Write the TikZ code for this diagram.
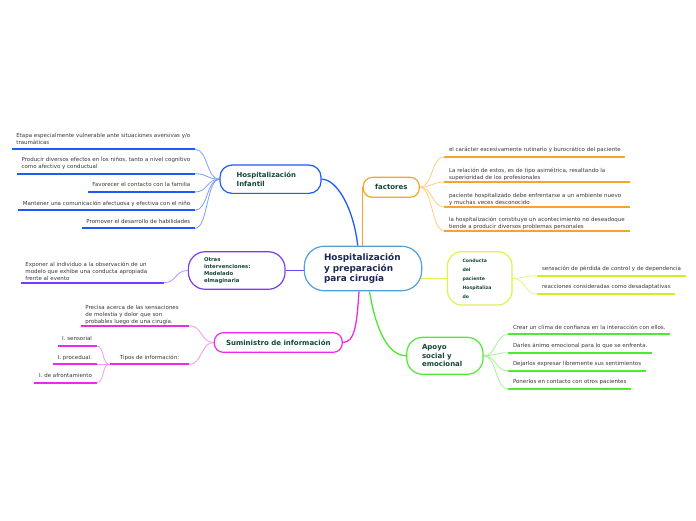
\documentclass[tikz,border=0pt]{standalone}
\usepackage{fontspec}
\setmainfont{DejaVu Sans}
\usetikzlibrary{calc}
\definecolor{blueM}{RGB}{30,90,250}
\definecolor{blueL}{RGB}{125,160,255}
\definecolor{orangeM}{RGB}{247,165,40}
\definecolor{orangeL}{RGB}{253,205,130}
\definecolor{purpleM}{RGB}{120,60,240}
\definecolor{purpleL}{RGB}{175,145,250}
\definecolor{magM}{RGB}{240,40,235}
\definecolor{magL}{RGB}{242,150,240}
\definecolor{yelM}{RGB}{222,242,80}
\definecolor{yelU}{RGB}{208,238,40}
\definecolor{yelL}{RGB}{228,244,130}
\definecolor{greenM}{RGB}{75,235,45}
\definecolor{greenL}{RGB}{165,242,145}
\definecolor{centerB}{RGB}{80,160,220}
\definecolor{nodetext}{RGB}{20,70,55}
\definecolor{centertext}{RGB}{25,40,85}
\definecolor{txtgray}{RGB}{55,55,55}
\newcommand\fsz[2]{\fontsize{#1}{#2}\selectfont}
\newcommand\lastdepth{\rule[-1.3pt]{0pt}{1pt}}
\pgfdeclarelayer{bg}
\pgfsetlayers{bg,main}
\begin{document}
\begin{tikzpicture}[x=1pt,y=-1pt,
  leafbase/.style={inner xsep=4.5pt, inner ysep=3.7pt, align=left,
    font=\fsz{5.5}{6.8}, text=txtgray},
  leaf/.style={leafbase, text depth=1.3pt},
  lleaf/.style={leaf, anchor=south east},
  rleaf/.style={leaf, anchor=south west},
  lwleaf/.style={leafbase, inner ysep=0.9pt, anchor=south east},
  rwleaf/.style={leafbase, inner ysep=0.9pt, anchor=south west},
  ul/.style={line width=1.7pt},
  twig/.style={line width=0.8pt},
  link/.style={line width=1.3pt},
  mainbox/.style={draw, line width=1.2pt, fill=white, inner ysep=0pt, text=nodetext,
    align=left},
]
\useasboundingbox (0,0) rectangle (696,520);

% ---------- main nodes ----------
\node[mainbox, draw=centerB, text=centertext, minimum width=117.4pt, minimum height=44.5pt,
  text width=78pt, inner xsep=19.7pt, rounded corners=20pt, font=\bfseries\fsz{8.9}{10.8}]
  (c) at (363,268.5) {Hospitalización\\y preparación\\para cirugía};

\node[mainbox, draw=blueM, minimum width=101pt, minimum height=28.3pt,
  text width=67.6pt, inner xsep=16.7pt, rounded corners=12pt, font=\bfseries\fsz{6.9}{8.2}]
  (hi) at (270.5,179.2) {Hospitalización\\Infantil};

\node[mainbox, draw=orangeM, minimum width=56pt, minimum height=20pt, align=center,
  inner xsep=0pt, rounded corners=9pt, font=\bfseries\fsz{7}{8.4}]
  (f) at (391.3,187.3) {factores};

\node[mainbox, draw=purpleM, minimum width=96.7pt, minimum height=37.6pt,
  text width=65.3pt, inner xsep=15.7pt, rounded corners=17pt, font=\bfseries\fsz{5.3}{6.9}]
  (o) at (236.7,270.5) {Otras\\intervenciones:\\Modelado\\elmaginaria};

\node[mainbox, draw=magM, minimum width=128pt, minimum height=19.6pt, align=center,
  inner xsep=0pt, rounded corners=9pt, font=\bfseries\fsz{7}{8.4}]
  (s) at (278.3,342.5) {Suministro de información};

\node[mainbox, draw=yelM, minimum width=64.5pt, minimum height=53.3pt,
  text width=34.5pt, inner xsep=15pt, rounded corners=14pt, font=\bfseries\fsz{4.6}{9}]
  (cd) at (479.8,278.3) {Conducta\\del\\paciente\\Hospitaliza\\do};

\node[mainbox, draw=greenM, minimum width=76.3pt, minimum height=37pt,
  text width=45.7pt, inner xsep=15.3pt, rounded corners=16pt, font=\bfseries\fsz{7}{8.4}]
  (a) at (444.9,355.8) {Apoyo\\social y\\emocional};

% ---------- leaves: Hospitalizacion Infantil ----------
\node[lleaf] (h1) at (195,149.3) {Etapa especialmente vulnerable ante situaciones aversivas y/o\\traumáticas};
\node[lleaf] (h2) at (195,173.7) {Producir diversos efectos en los niños, tanto a nivel cognitivo\\como afectivo y conductual};
\node[lleaf] (h3) at (195,192) {Favorecer el contacto con la familia};
\node[lleaf] (h4) at (195,210.3) {Mantener una comunicación afectuosa y efectiva con el niño};
\node[lleaf] (h5) at (195,228.3) {Promover el desarrollo de habilidades};

% ---------- leaves: factores ----------
\node[rleaf] (f1) at (444.3,156.7) {el carácter excesivamente rutinario y burocrático del paciente};
\node[rwleaf, text width=176.7pt] (f2) at (444.3,182) {La relación de estos, es de tipo asimétrica, resaltando la\\superioridad de los profesionales\lastdepth};
\node[rwleaf, text width=176.7pt] (f3) at (444.3,206.7) {paciente hospitalizado debe enfrentarse a un ambiente nuevo\\y muchas veces desconocido\lastdepth};
\node[rwleaf, text width=176.7pt] (f4) at (444.3,230.7) {la hospitalización constituye un acontecimiento no deseadoque\\tiende a producir diversos problemas personales\lastdepth};

% ---------- leaves: Otras ----------
\node[rwleaf, text width=133.6pt] (o1) at (20.7,282.7) {Exponer al individuo a la observación de un\\modelo que exhibe una conducta apropiada\\frente al evento\lastdepth};

% ---------- leaves: Suministro ----------
\node[lwleaf, text width=99.3pt] (s1) at (189.3,325.7) {Precisa acerca de las sensaciones\\de molestia y dolor que son\\probables luego de una cirugía.\lastdepth};
\node[lleaf, minimum width=79.3pt, align=right] (s2) at (189.3,364.3) {Tipos de información:};
\node[lleaf] (t1) at (96.7,346) {I. sensorial};
\node[lleaf] (t2) at (96.7,364.3) {I. procedual.};
\node[lleaf] (t3) at (96.7,382.7) {I. de afrontamiento};

% ---------- leaves: Conducta ----------
\node[rleaf] (d1) at (537.3,275.7) {sensación de pérdida de control y de dependencia};
\node[rleaf] (d2) at (537.3,294) {reacciones consideradas como desadaptativas};

% ---------- leaves: Apoyo ----------
\node[rleaf] (a1) at (508.3,334.3) {Crear un clima de confianza en la interacción con ellos.};
\node[rleaf] (a2) at (508.3,352.7) {Darles ánimo emocional para lo que se enfrenta.};
\node[rleaf] (a3) at (508.3,371) {Dejarlos expresar libremente sus sentimientos};
\node[rleaf] (a4) at (508.3,389) {Ponerlos en contacto con otros pacientes};

\begin{pgfonlayer}{bg}
% main links
\draw[link, blueM] (hi.east) .. controls +(16,0) and +(-4,-36) .. (c.103);
\draw[link, orangeM] (f.west) -- (f.west |- c.north);
\draw[link, purpleM] (o.east) -- (o.east -| c.center);
\draw[link, yelM] (cd.west) -- (cd.west -| c.center);
\draw[link, magM] (c.260) .. controls +(-2,32) and +(12,0) .. (s.east);
\draw[link, greenM] (c.286) .. controls +(6,38) and +(-18,0) .. (a.west);

% underlines
\foreach \n in {h1,h2,h3,h4,h5} \draw[ul, blueM] (\n.south west) -- (\n.south east);
\foreach \n in {f1,f2,f3,f4} \draw[ul, orangeM] (\n.south west) -- (\n.south east);
\draw[ul, purpleM] (o1.south west) -- (o1.south east);
\foreach \n in {s1,s2,t1,t2,t3} \draw[ul, magM] (\n.south west) -- (\n.south east);
\foreach \n in {d1,d2} \draw[ul, yelU] (\n.south west) -- (\n.south east);
\foreach \n in {a1,a2,a3,a4} \draw[ul, greenM] (\n.south west) -- (\n.south east);

% twigs
\foreach \n in {h1,h2,h3,h4,h5} \draw[twig, blueL] (\n.south east) .. controls +(13,0) and +(-13,0) .. (hi.west);
\foreach \n in {f1,f2,f3,f4} \draw[twig, orangeL] (f.east) .. controls +(13,0) and +(-13,0) .. (\n.south west);
\draw[twig, purpleL] (o1.south east) .. controls +(13,0) and +(-13,0) .. (o.west);
\foreach \n in {s1,s2} \draw[twig, magL] (\n.south east) .. controls +(13,0) and +(-13,0) .. (s.west);
\foreach \n in {t1,t2,t3} \draw[twig, magL] (\n.south east) .. controls +(8,0) and +(-8,0) .. (s2.south west);
\foreach \n in {d1,d2} \draw[twig, yelL] (cd.east) .. controls +(13,0) and +(-13,0) .. (\n.south west);
\foreach \n in {a1,a2,a3,a4} \draw[twig, greenL] (a.east) .. controls +(13,0) and +(-13,0) .. (\n.south west);
\end{pgfonlayer}
\end{tikzpicture}
\end{document}
